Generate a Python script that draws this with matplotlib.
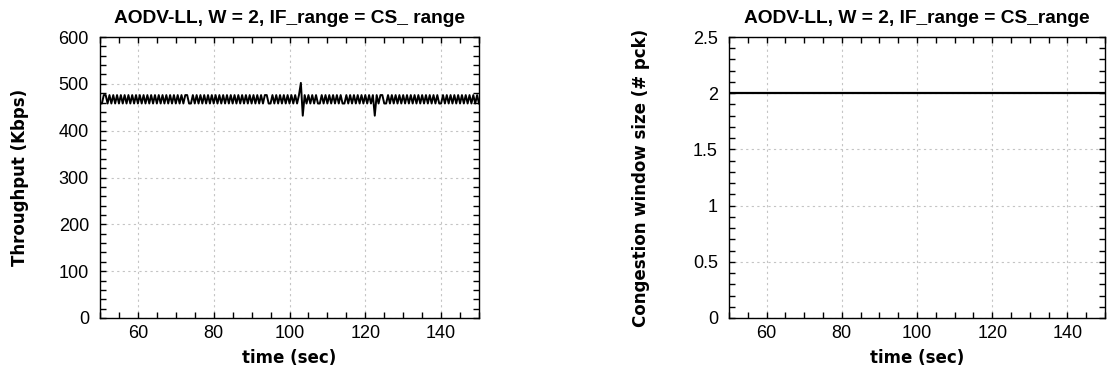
import numpy as np
import matplotlib
matplotlib.use("Agg")
import matplotlib.pyplot as plt
from matplotlib.ticker import MultipleLocator

# throughput samples (Kbps), one every 0.5 s from t = 50 to t = 150
thr_row_50 = [458, 458, 476, 476, 458, 476, 458, 476, 458, 476, 458, 476, 458, 476, 458, 476, 458, 476, 458, 476]
thr_row_60 = [458, 476, 458, 476, 458, 476, 458, 476, 458, 476, 458, 476, 458, 476, 458, 476, 458, 476, 458, 476]
thr_row_70 = [458, 476, 458, 476, 458, 476, 476, 458, 458, 476, 458, 476, 458, 476, 458, 476, 458, 476, 458, 476]
thr_row_80 = [458, 476, 458, 476, 458, 476, 458, 476, 458, 476, 458, 476, 458, 476, 458, 476, 458, 476, 458, 476]
thr_row_90 = [458, 476, 458, 476, 458, 476, 458, 476, 476, 458, 458, 476, 458, 476, 458, 476, 458, 476, 458, 476]
thr_row_100 = [458, 476, 458, 476, 458, 476, 502, 432, 476, 458, 476, 458, 476, 458, 476, 458, 458, 476, 458, 476]
thr_row_110 = [458, 476, 458, 476, 458, 476, 458, 476, 458, 458, 476, 458, 476, 458, 476, 458, 476, 458, 476, 458]
thr_row_120 = [476, 458, 476, 458, 476, 432, 476, 458, 476, 476, 458, 458, 476, 458, 476, 458, 476, 458, 476, 458]
thr_row_130 = [476, 458, 476, 458, 476, 458, 476, 458, 476, 458, 476, 458, 476, 458, 476, 458, 476, 458, 476, 458]
thr_row_140 = [458, 476, 458, 476, 458, 476, 458, 476, 458, 476, 458, 476, 458, 476, 458, 476, 458, 476, 458, 476]
thr_last = [458]

# congestion window (packets)
cwnd_time = [50, 150]
cwnd_vals = [2, 2]

title_left = "AODV-LL, W = 2, IF_range = CS_ range"
title_right = "AODV-LL, W = 2, IF_range = CS_range"

throughput = (thr_row_50 + thr_row_60 + thr_row_70 + thr_row_80 + thr_row_90 +
              thr_row_100 + thr_row_110 + thr_row_120 + thr_row_130 + thr_row_140 + thr_last)
thr_time = np.arange(len(throughput)) * 0.5 + 50

plt.rcParams['font.family'] = ['Liberation Sans', 'DejaVu Sans']

fig = plt.figure(figsize=(11.07, 3.73), dpi=100)
ax1 = fig.add_axes([100 / 1107, 1 - 318 / 373, 379 / 1107, 281 / 373])
ax2 = fig.add_axes([729 / 1107, 1 - 318 / 373, 376 / 1107, 281 / 373])


def style_axes(ax, ylabel, title, ymax, ymajor, yminor, label_x):
    ax.set_xlim(50, 150)
    ax.set_ylim(0, ymax)
    ax.xaxis.set_major_locator(MultipleLocator(20))
    ax.xaxis.set_minor_locator(MultipleLocator(5))
    ax.yaxis.set_major_locator(MultipleLocator(ymajor))
    ax.yaxis.set_minor_locator(MultipleLocator(yminor))
    ax.tick_params(which='both', direction='in', top=True, right=True,
                   labelsize=13, width=1, color='black')
    ax.tick_params(which='major', length=4)
    ax.tick_params(axis='y', which='major', pad=8)
    ax.tick_params(axis='x', which='major', pad=5)
    ax.tick_params(which='minor', length=4)
    ax.grid(True, which='major', linestyle=(0, (2, 3)), color='#c4c4c4', linewidth=0.8)
    for sp in ax.spines.values():
        sp.set_linewidth(1.0)
    ax.set_title(title, fontsize=13.8, fontweight='bold', pad=10)
    ax.set_xlabel("time (sec)", fontsize=12, fontweight='bold', family='DejaVu Sans', labelpad=5)
    ax.set_ylabel(ylabel, fontsize=12, fontweight='bold', family='DejaVu Sans')
    ax.yaxis.set_label_coords(label_x, 0.5)


ax1.plot(thr_time, throughput, color='black', linewidth=1.4)
style_axes(ax1, "Throughput (Kbps)", title_left, 600, 100, 20, -0.188)

ax2.plot(cwnd_time, cwnd_vals, color='black', linewidth=1.6)
style_axes(ax2, "Congestion window size (# pck)", title_right, 2.5, 0.5, 0.1, -0.209)
ax2.yaxis.set_major_formatter(plt.FuncFormatter(lambda v, p: f"{v:g}"))

fig.savefig("out.png", dpi=100)
